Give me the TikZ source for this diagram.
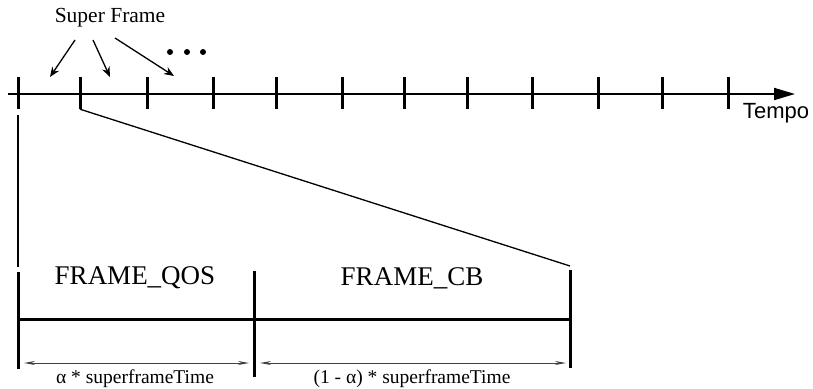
\documentclass[tikz,border=0pt]{standalone}
\usepackage{fontspec}
\setmainfont{Liberation Serif}
\setsansfont{Liberation Sans}
\usetikzlibrary{calc,arrows.meta}

\begin{document}
\begin{tikzpicture}[
        x=1pt, y=-1pt,
        tick/.style={rectangle, fill=black, minimum width=3pt, minimum height=32pt, inner sep=0pt},
        bar/.style={rectangle, fill=black, minimum width=3pt, inner sep=0pt},
        label/.style={inner sep=0pt, font=\fontsize{21.5}{24}\selectfont},
        framelabel/.style={inner sep=0pt, font=\fontsize{27}{30}\selectfont},
        dimlabel/.style={inner sep=0pt, font=\fontsize{19.5}{22}\selectfont},
        pointer/.style={line width=1.3pt, -{Stealth[length=10pt,width=8pt]}},
        span/.style={line width=0.9pt, draw=black!75, {Stealth[length=11pt,width=4pt]}-{Stealth[length=11pt,width=4pt]}}
    ]
        \useasboundingbox (0,0) rectangle (813,388);

        % Time axis
        \coordinate (axs) at (8,94);
        \coordinate (axe) at (795,94);
        \draw [line width=2pt, -{Triangle[length=21pt,width=12pt]}] (axs) -- (axe);
        \node (tempo) [inner sep=0pt, font=\sffamily\fontsize{22}{24}\selectfont] at (776,113) {Tempo};

        % Ticks
        \foreach \x [count=\i] in {18,80,147,213,276,342,404,467,532,598,662,728}
            \node (t\i) [tick] at (\x,93) {};

        % Super Frame pointers
        \node (sf) [label] at (110,18) {Super Frame};
        \coordinate (s1) at (75,40);
        \coordinate (s2) at (93,40);
        \coordinate (s3) at (115,38);
        \coordinate (p1) at (50,77);
        \coordinate (p2) at (110,77);
        \coordinate (p3) at (174,76);
        \draw [pointer] (s1) -- (p1);
        \draw [pointer] (s2) -- (p2);
        \draw [pointer] (s3) -- (p3);
        \foreach \x in {170,187,203}
            \fill (\x,52) circle (3pt);

        % Zoomed frame
        \node (lb) [bar, minimum height=97pt] at (18,320) {};
        \node (mb) [bar, minimum height=106pt] at (254,324) {};
        \node (rb) [bar, minimum height=98pt] at (570,319) {};
        \coordinate (lt) at (18,115);
        \coordinate (lbt) at (18,267);
        \coordinate (rbt) at (570,266);
        \draw [line width=1.6pt] (lt) -- (lbt);
        \draw [line width=1.3pt] (t2.south) -- (rbt);
        \draw [line width=3pt] (lb.center |- 0,319) -- (rb.center |- 0,319);

        \node (qos) [framelabel] at (135,278) {FRAME\_QOS};
        \node (cb) [framelabel] at (412,278) {FRAME\_CB};

        % Durations
        \coordinate (d1) at (24,363);
        \coordinate (d2) at (249,363);
        \coordinate (d3) at (260,363);
        \coordinate (d4) at (566,363);
        \draw [span] (d1) -- (d2);
        \draw [span] (d3) -- (d4);
        \node (da) [dimlabel] at (135,379) {α * superframeTime};
        \node (db) [dimlabel] at (412,379) {(1 - α) * superframeTime};
    \end{tikzpicture}
\end{document}
